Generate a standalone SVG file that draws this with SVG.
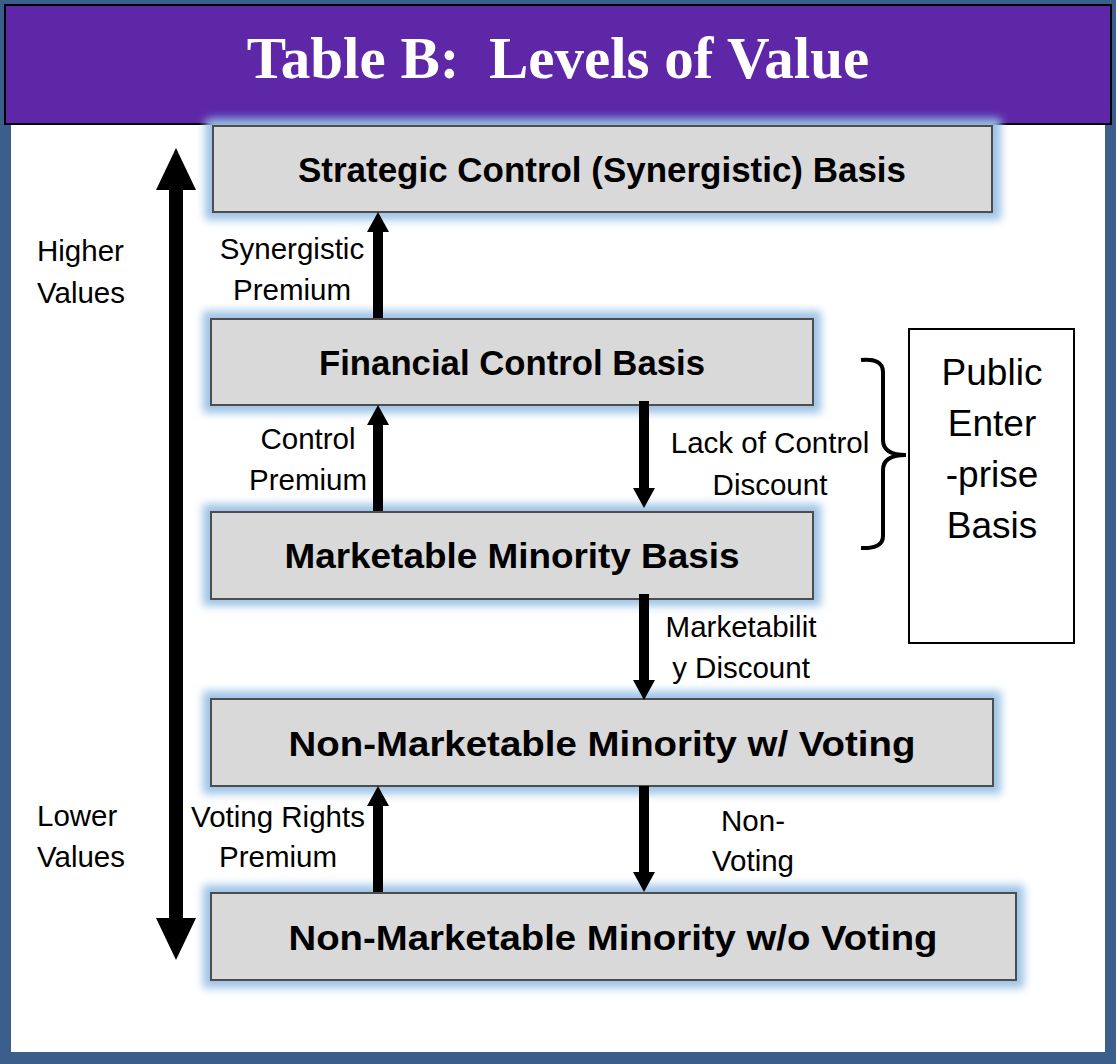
<svg xmlns="http://www.w3.org/2000/svg" width="1116" height="1064" viewBox="0 0 1116 1064">
<style>
.box{fill:#d9d9d9;stroke:#4d4d4d;stroke-width:2}
.glow{fill:#9dc3e6}
.bt{font-family:"Liberation Sans",Arial,sans-serif;font-weight:bold;font-size:35px;fill:#000;text-anchor:middle}
.lb{font-family:"Liberation Sans",Arial,sans-serif;font-size:29.5px;fill:#000;text-anchor:middle}
.ls{font-family:"Liberation Sans",Arial,sans-serif;font-size:29.5px;fill:#000}
.pl{font-family:"Liberation Sans",Arial,sans-serif;font-size:37px;fill:#000;text-anchor:middle}
.arr{fill:#000}
</style>
<defs>
<filter id="blur" x="-10%" y="-30%" width="120%" height="160%"><feGaussianBlur stdDeviation="4"/></filter>
</defs>
<rect x="0" y="0" width="1116" height="1064" fill="#3b5e8a"/>
<rect x="11" y="120" width="1094" height="932" fill="#fff"/>
<g id="header">
<rect x="5" y="5" width="1106" height="119" fill="#5e27a7" stroke="#000" stroke-width="2"/>
<text x="558" y="78" font-family="Liberation Serif,'Times New Roman',serif" font-weight="bold" font-size="59" fill="#fff" text-anchor="middle" xml:space="preserve">Table B:  Levels of Value</text>
</g>
<g id="glows" filter="url(#blur)">
<rect x="210" y="116" width="790" height="10" fill="#4a4ac0"/>
<rect class="glow" x="205" y="120" width="796" height="100"/>
<rect class="glow" x="203" y="311" width="618" height="102"/>
<rect class="glow" x="203" y="504" width="618" height="102"/>
<rect class="glow" x="203" y="691" width="798" height="103"/>
<rect class="glow" x="203" y="885" width="821" height="103"/>
</g>
<g id="node-strategic">
<rect class="box" x="213" y="126" width="779" height="86"/>
<text class="bt" x="602" y="182" textLength="608" lengthAdjust="spacingAndGlyphs">Strategic Control (Synergistic) Basis</text>
</g>
<g id="node-financial">
<rect class="box" x="211" y="319" width="602" height="86"/>
<text class="bt" x="512" y="375" textLength="386" lengthAdjust="spacingAndGlyphs">Financial Control Basis</text>
</g>
<g id="node-marketable">
<rect class="box" x="211" y="512" width="602" height="87"/>
<text class="bt" x="512" y="568" textLength="455" lengthAdjust="spacingAndGlyphs">Marketable Minority Basis</text>
</g>
<g id="node-nonmkt-voting">
<rect class="box" x="211" y="699" width="782" height="87"/>
<text class="bt" x="602" y="756" textLength="627" lengthAdjust="spacingAndGlyphs">Non-Marketable Minority w/ Voting</text>
</g>
<g id="node-nonmkt-novoting">
<rect class="box" x="211" y="893" width="805" height="87"/>
<text class="bt" x="613" y="950" textLength="649" lengthAdjust="spacingAndGlyphs">Non-Marketable Minority w/o Voting</text>
</g>
<g id="node-public">
<rect x="909" y="329" width="165" height="314" fill="#fff" stroke="#000" stroke-width="2"/>
<text class="pl" x="992" y="385">Public</text>
<text class="pl" x="992" y="436">Enter</text>
<text class="pl" x="992" y="487">-prise</text>
<text class="pl" x="992" y="538">Basis</text>
</g>
<g id="connectors">
<polygon class="arr" points="176,148 196,190 183,190 183,918 196,918 176,960 156,918 169,918 169,190 156,190"/>
<polygon class="arr" points="378,212 389,232 383,232 383,318 373,318 373,232 367,232"/>
<polygon class="arr" points="378,405 389,425 383,425 383,511 373,511 373,425 367,425"/>
<polygon class="arr" points="378,786 389,806 383,806 383,892 373,892 373,806 367,806"/>
<polygon class="arr" points="644,508 655,488 649,488 649,401 639,401 639,488 633,488"/>
<polygon class="arr" points="644,700 655,680 649,680 649,594 639,594 639,680 633,680"/>
<polygon class="arr" points="644,892 655,872 649,872 649,786 639,786 639,872 633,872"/>
<path d="M861,360 Q883,358 883,372 L883,440 Q883,455 906,455 Q883,455 883,470 L883,536 Q883,549 861,548" fill="none" stroke="#000" stroke-width="4"/>
</g>
<g id="labels">
<text class="ls" x="37" y="261">Higher</text>
<text class="ls" x="37" y="303">Values</text>
<text class="ls" x="37" y="826">Lower</text>
<text class="ls" x="37" y="867">Values</text>
<text class="lb" x="292" y="259">Synergistic</text>
<text class="lb" x="292" y="300">Premium</text>
<text class="lb" x="308" y="449">Control</text>
<text class="lb" x="308" y="490">Premium</text>
<text class="lb" x="770" y="453">Lack of Control</text>
<text class="lb" x="770" y="495">Discount</text>
<text class="lb" x="741" y="637">Marketabilit</text>
<text class="lb" x="741" y="678">y Discount</text>
<text class="lb" x="278" y="827">Voting Rights</text>
<text class="lb" x="278" y="867">Premium</text>
<text class="lb" x="753" y="831">Non-</text>
<text class="lb" x="753" y="871">Voting</text>
</g>
</svg>
